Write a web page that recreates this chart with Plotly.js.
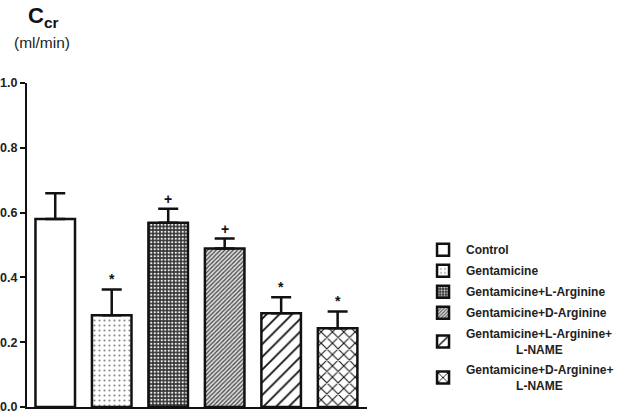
<!DOCTYPE html>
<html><head><meta charset="utf-8">
<script src="https://cdn.plot.ly/plotly-3.0.1.min.js"></script>
<style>html,body{margin:0;padding:0;background:#fff}#chart{width:628px;height:416px}</style>
</head><body><div id="chart"></div>
<script>
const groups = ["Control","Gentamicine","Gentamicine+L-Arginine","Gentamicine+D-Arginine","Gentamicine+L-Arginine+<br>\u00a0\u00a0\u00a0\u00a0\u00a0\u00a0\u00a0\u00a0\u00a0\u00a0\u00a0\u00a0\u00a0\u00a0\u00a0L-NAME","Gentamicine+D-Arginine+<br>\u00a0\u00a0\u00a0\u00a0\u00a0\u00a0\u00a0\u00a0\u00a0\u00a0\u00a0\u00a0\u00a0\u00a0\u00a0L-NAME"];
const means = [0.58, 0.283, 0.569, 0.489, 0.289, 0.243];
const sem = [0.08, 0.08, 0.043, 0.031, 0.05, 0.052];
const marks = ["", "*", "+", "+", "*", "*"];
const patterns = [
  {shape:"", bgcolor:"#fff"},
  {shape:".", size:5, solidity:0.15, fgcolor:"#888", bgcolor:"#fff"},
  {shape:".", size:3.5, solidity:0.35, fgcolor:"#eee", bgcolor:"#333", fgopacity:1},
  {shape:"/", size:3, solidity:0.4, fgcolor:"#444", bgcolor:"#ddd"},
  {shape:"/", size:9, solidity:0.2, fgcolor:"#111", bgcolor:"#fff"},
  {shape:"x", size:8, solidity:0.25, fgcolor:"#111", bgcolor:"#fff"}
];
const traces = groups.map((g,i)=>({
  type:"bar", x:[i], y:[means[i]], name:g, width:0.7,
  marker:{color:"#fff", line:{color:"#111", width:2.5}, pattern:patterns[i]},
  error_y:{type:"data", symmetric:false, array:[sem[i]], arrayminus:[0], color:"#111", thickness:2.5, width:10},
  legendgroup:"g"+i, hoverinfo:"skip"
}));
const annotations = marks.map((m,i)=>m?({x:i, y:means[i]+sem[i], xref:"x", yref:"y", text:"<b>"+m+"</b>", showarrow:false, yanchor:"bottom", yshift:0, font:{family:"Liberation Sans, Arial", size:14, color:"#111"}}):null).filter(a=>a);
annotations.push({xref:"paper", yref:"paper", x:0.048, y:1.204, xanchor:"center", yanchor:"middle", text:"<b>C<sub>cr</sub></b>", showarrow:false, font:{family:"Liberation Sans, Arial", size:22, color:"#111"}});
annotations.push({xref:"paper", yref:"paper", x:0.045, y:1.125, xanchor:"center", yanchor:"middle", text:"(ml/min)", showarrow:false, font:{family:"Liberation Sans, Arial", size:15.5, color:"#222"}});
const layout = {
  width:628, height:416,
  margin:{l:27, r:255, t:83, b:9},
  paper_bgcolor:"#fff", plot_bgcolor:"#fff",
  showlegend:true,
  legend:{x:1.156, y:0.53, xanchor:"left", yanchor:"top", font:{family:"Liberation Sans, Arial", size:12, color:"#222", weight:"bold"}, tracegroupgap:2, itemwidth:36, bgcolor:"rgba(0,0,0,0)"},
  xaxis:{range:[-0.5,5.52], showticklabels:false, ticks:"", showgrid:false, zeroline:false, showline:true, linecolor:"#111", linewidth:2},
  yaxis:{range:[0,1], dtick:0.2, tickformat:".1f", ticks:"outside", ticklen:5, tickwidth:2, tickcolor:"#111", showgrid:false, zeroline:false, showline:true, linecolor:"#111", linewidth:2, tickfont:{family:"Liberation Sans, Arial", size:12.5, color:"#222", weight:"bold"}},
  annotations:annotations,
  bargap:0.3
};
Plotly.newPlot("chart", traces, layout, {displayModeBar:false, staticPlot:true});
</script></body></html>
